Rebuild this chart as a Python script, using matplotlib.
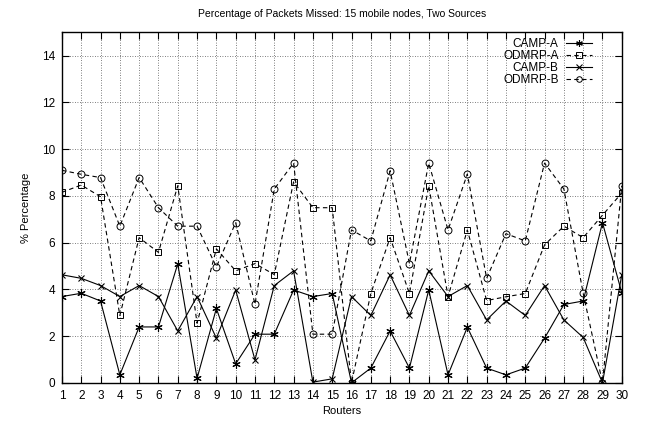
import numpy as np
import matplotlib
matplotlib.use("Agg")
import matplotlib.pyplot as plt

# Data
routers = np.arange(1, 31)

camp_a = [3.69, 3.83, 3.50, 0.34, 2.39, 2.39, 5.09, 0.19, 3.18, 0.81,
          2.08, 2.08, 3.97, 3.69, 3.82, 0.0, 0.63, 2.22, 0.63, 3.97,
          0.34, 2.38, 0.63, 0.34, 0.63, 1.91, 3.35, 3.50, 6.85, 3.85]
odmrp_a = [8.15, 8.46, 7.96, 2.88, 6.21, 5.58, 8.43, 2.55, 5.73, 4.79,
           5.10, 4.63, 8.60, 7.49, 7.49, 0.0, 3.82, 6.21, 3.82, 8.43,
           3.69, 6.54, 3.52, 3.68, 3.82, 5.90, 6.70, 6.21, 7.17, 8.12]
camp_b = [4.62, 4.47, 4.16, 3.69, 4.16, 3.69, 2.22, 3.69, 1.91, 3.97,
          0.98, 4.16, 4.79, 0.03, 0.17, 3.69, 2.88, 4.62, 2.88, 4.79,
          3.69, 4.16, 2.69, 3.50, 2.88, 4.16, 2.69, 1.94, 0.0, 4.62]
odmrp_b = [9.09, 8.92, 8.78, 6.70, 8.78, 7.49, 6.70, 6.70, 4.96, 6.85,
           3.36, 8.29, 9.40, 2.08, 2.08, 6.54, 6.07, 9.07, 5.10, 9.40,
           6.54, 8.93, 4.47, 6.38, 6.07, 9.40, 8.29, 3.83, 0.0, 8.43]

y_ticks = [0, 2, 4, 6, 8, 10, 12, 14]

plt.rcParams["font.family"] = ["Liberation Sans", "DejaVu Sans"]
plt.rcParams["font.size"] = 8

fig = plt.figure(figsize=(6.45, 4.23), dpi=100)
ax = fig.add_axes([0.096, 0.095, 0.868, 0.829])

dash = (0, (4, 3))
ax.plot(routers, camp_a, color="black", lw=0.8, marker=(6, 2, 0), ms=6,
        mew=0.8, label="CAMP-A")
ax.plot(routers, odmrp_a, color="black", lw=0.8, ls=dash, marker="s", ms=5,
        mfc="none", mew=0.7, label="ODMRP-A")
ax.plot(routers, camp_b, color="black", lw=0.8, marker="x", ms=5,
        mew=0.8, label="CAMP-B")
ax.plot(routers, odmrp_b, color="black", lw=0.8, ls=dash, marker="o", ms=5,
        mfc="none", mew=0.7, label="ODMRP-B")

ax.set_xlim(1, 30)
ax.set_ylim(0, 15)
ax.set_xticks(routers)
ax.set_yticks(y_ticks)
ax.tick_params(direction="in", top=True, right=True, length=5, width=0.8,
               labelsize=8.5, pad=5)
ax.grid(True, color="#555555", ls=(0, (1, 2)), lw=0.6)
for s in ax.spines.values():
    s.set_linewidth(1.0)

ax.set_title("Percentage of Packets Missed: 15 mobile nodes, Two Sources",
             fontsize=7.5, pad=11)
ax.set_xlabel("Routers", fontsize=8, labelpad=3)
ax.set_ylabel("% Percentage", fontsize=8, labelpad=8)

leg = ax.legend(loc="upper right", bbox_to_anchor=(0.957, 1.0),
                markerfirst=False, frameon=False, fontsize=8.5,
                handlelength=2.2, handletextpad=0.6, labelspacing=0.0,
                borderpad=0, markerscale=0.8)
for t in leg.get_texts():
    t.set_ha("right")

fig.savefig("out.png", dpi=100)
